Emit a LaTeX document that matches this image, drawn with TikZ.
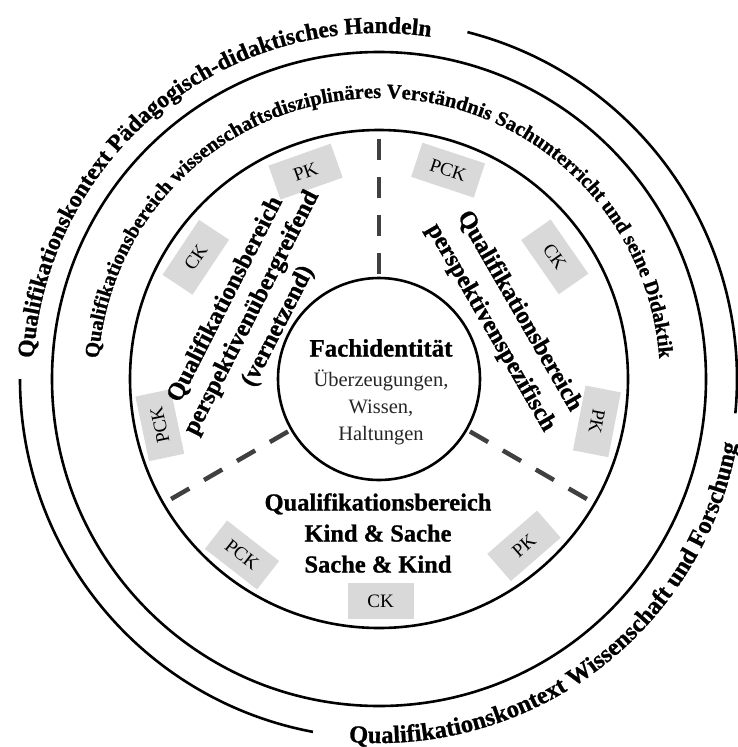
\documentclass[tikz,border=0pt]{standalone}
\usepackage{fontspec}
\setmainfont{Liberation Serif}[BoldFeatures={FakeBold=1}]
\usetikzlibrary{decorations.text}
\definecolor{boxgray}{HTML}{D9D9D9}
\definecolor{dashgray}{HTML}{404040}
\definecolor{txtgray}{HTML}{262626}
\begin{document}
\begin{tikzpicture}[x=1pt,y=1pt,
  ring/.style={line width=2.6pt},
  kbox/.style={fill=boxgray, minimum width=66pt, minimum height=36pt, inner sep=0pt, font=\fontsize{19}{19}\selectfont},
  sep/.style={draw=dashgray, line width=4.5pt, dash pattern=on 21pt off 17pt},
  big/.style={font=\fontsize{24.5}{31}\selectfont\bfseries, align=center},
  arctext/.style={decorate, decoration={text along path, text align=center, text={#1}}}
]
\useasboundingbox (0,0) rectangle (737,-747);
\begin{scope}[shift={(379pt,-379pt)}]
  % circles
  \draw[ring] (0,0) circle[radius=101pt];
  \draw[ring] (0,0) circle[radius=249pt];
  \draw[ring] (0,0) circle[radius=327pt];
  \draw[ring] (75.7:358pt) arc[start angle=75.7, end angle=-5.5, radius=358pt];
  \draw[ring] (180:359pt) arc[start angle=180, end angle=259.4, radius=359pt];
  % separators
  \foreach \a in {90,210,330} \draw[sep] (\a:240pt) -- (\a:105pt);
  % arc texts
  \path[arctext={|\fontsize{23.5}{23.5}\selectfont\bfseries|Qualifikationskontext Pädagogisch-didaktisches Handeln}]
    (200:346pt) arc[start angle=200, end angle=58, radius=346pt];
  \path[arctext={|\fontsize{24.5}{24.5}\selectfont\bfseries|Qualifikationskontext Wissenschaft und Forschung}]
    (240:364pt) arc[start angle=240, end angle=375, radius=364pt];
  \path[arctext={|\fontsize{20.5}{20.5}\selectfont\bfseries|Qualifikationsbereich wissenschaftsdisziplinäres Verständnis Sachunterricht und seine Didaktik}]
    (190:281pt) arc[start angle=190, end angle=-10, radius=281pt];
  % boxes
  \node[kbox, rotate=19.5] (pkA) at (109.5:220pt) {PK};
  \node[kbox, rotate=56.4] (ckA) at (146.4:220pt) {CK};
  \node[kbox, rotate=101.9] (pckA) at (191.9:224pt) {PCK};
  \node[kbox, rotate=-18.3] (pckB) at (71.7:220pt) {PCK};
  \node[kbox, rotate=-55.2] (ckB) at (34.8:214pt) {CK};
  \node[kbox, rotate=-101] (pkB) at (-11:222pt) {PK};
  \node[kbox, rotate=-37.9] (pckC) at (232.1:223pt) {PCK};
  \node[kbox] (ckC) at (270.4:222pt) {CK};
  \node[kbox, rotate=41] (pkC) at (311:221pt) {PK};
\end{scope}
\node[font=\fontsize{25}{25}\selectfont\bfseries] (fach) at (381,-348) {Fachidentität};
\node[font=\fontsize{20.5}{27}\selectfont, text=txtgray, align=center] (ueber) at (381,-407) {Überzeugungen,\\Wissen,\\Haltungen};
\node[big] (kind) at (378,-533) {Qualifikationsbereich\\Kind \& Sache\\Sache \& Kind};
\node[big, font=\fontsize{24.5}{29.5}\selectfont\bfseries, rotate=63] (quer) at (252,-313) {Qualifikationsbereich\\perspektivenübergreifend\\(vernetzend)};
\node[big, font=\fontsize{24.5}{33}\selectfont\bfseries, rotate=-60] (spez) at (505,-319.5) {Qualifikationsbereich\\perspektivenspezifisch};
\end{tikzpicture}
\end{document}
